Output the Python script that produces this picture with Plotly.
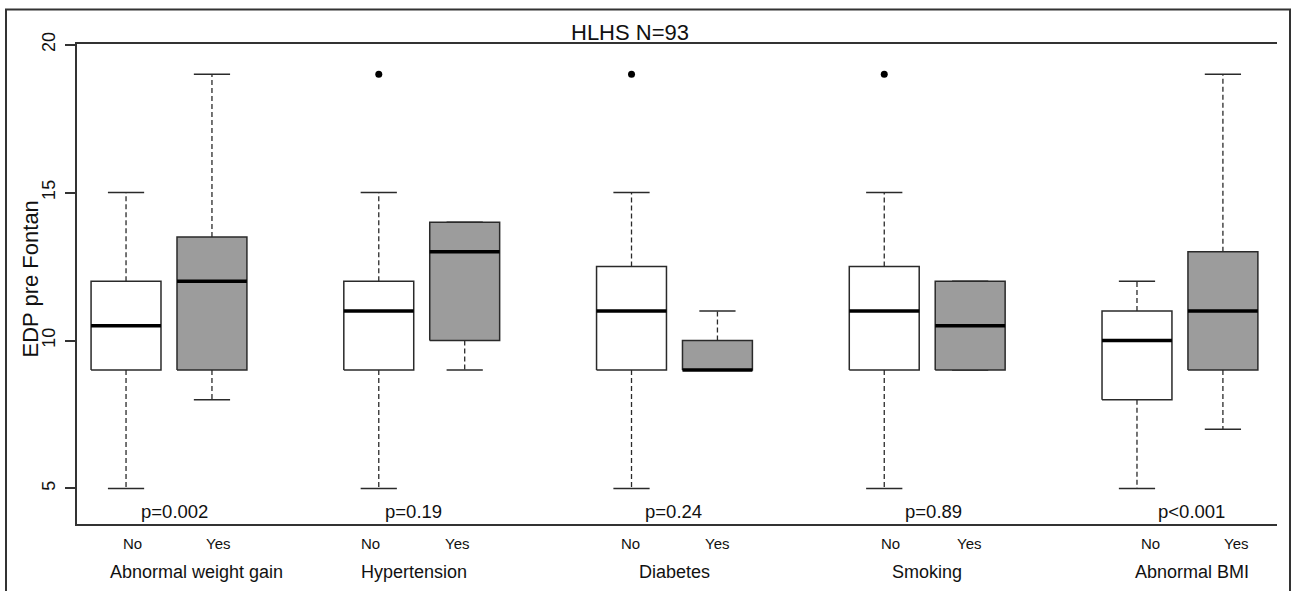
import plotly.graph_objects as go

# ---- data ----
groups = ["Abnormal weight gain", "Hypertension", "Diabetes", "Smoking", "Abnormal BMI"]
levels = ["No", "Yes"]
p_values = ["p=0.002", "p=0.19", "p=0.24", "p=0.89", "p<0.001"]
# box statistics, order: (No, Yes) for each group
whisk_lo = [5, 8, 5, 9, 5, 9, 5, 9, 5, 7]
q1 = [9, 9, 9, 10, 9, 9, 9, 9, 8, 9]
median = [10.5, 12, 11, 13, 11, 9, 11, 10.5, 10, 11]
q3 = [12, 13.5, 12, 14, 12.5, 10, 12.5, 12, 11, 13]
whisk_hi = [15, 19, 15, 14, 15, 11, 15, 12, 12, 19]
outlier_box = [2, 4, 6]
outlier_val = [19, 19, 19]
y_ticks = [5, 10, 15, 20]

# ---- layout helpers ----
GROUP_STEP = 3.0
YES_OFFSET = 1.02
BOX_W = 0.83
CAP_W = 0.43
pos = [1 + GROUP_STEP * g + YES_OFFSET * l for g in range(len(groups)) for l in range(len(levels))]
fills = ["#ffffff", "#9c9c9c"] * len(groups)
EDGE = "#2a2a2a"

fig = go.Figure()

# whiskers (dashed)
wx, wy = [], []
for i, p in enumerate(pos):
    wx += [p, p, None, p, p, None]
    wy += [q3[i], whisk_hi[i], None, q1[i], whisk_lo[i], None]
fig.add_trace(go.Scatter(x=wx, y=wy, mode="lines", line=dict(color=EDGE, width=1.3, dash="5px,3px"),
                         hoverinfo="skip", showlegend=False))
# caps
cx, cy = [], []
for i, p in enumerate(pos):
    cx += [p - CAP_W / 2, p + CAP_W / 2, None, p - CAP_W / 2, p + CAP_W / 2, None]
    cy += [whisk_hi[i], whisk_hi[i], None, whisk_lo[i], whisk_lo[i], None]
fig.add_trace(go.Scatter(x=cx, y=cy, mode="lines", line=dict(color=EDGE, width=1.5),
                         hoverinfo="skip", showlegend=False))
# boxes
for i, p in enumerate(pos):
    fig.add_trace(go.Scatter(
        x=[p - BOX_W / 2, p + BOX_W / 2, p + BOX_W / 2, p - BOX_W / 2, p - BOX_W / 2],
        y=[q1[i], q1[i], q3[i], q3[i], q1[i]],
        mode="lines", fill="toself", fillcolor=fills[i],
        line=dict(color=EDGE, width=1.5), hoverinfo="skip", showlegend=False))
# medians
mx, my = [], []
for i, p in enumerate(pos):
    mx += [p - BOX_W / 2, p + BOX_W / 2, None]
    my += [median[i], median[i], None]
fig.add_trace(go.Scatter(x=mx, y=my, mode="lines", line=dict(color="#000000", width=3.5),
                         hoverinfo="skip", showlegend=False))
# outliers
fig.add_trace(go.Scatter(x=[pos[b] for b in outlier_box], y=outlier_val, mode="markers",
                         marker=dict(color="#000000", size=7), hoverinfo="skip", showlegend=False))

XMIN, XMAX = 0.418, 14.662
YMIN, YMAX = 3.8, 20.02

def px_to_x(px):
    return XMIN + (px - 77) / 1200 * (XMAX - XMIN)

def py_to_paper(py):
    return (524 - py) / 480

FONT = "Liberation Sans, Arial, sans-serif"
ann = []
# p-value labels
p_px = [174, 413, 673, 933.5, 1191]
for t, px in zip(p_values, p_px):
    ann.append(dict(x=px_to_x(px), y=py_to_paper(511), xref="x", yref="paper", text=t, showarrow=False,
                    xanchor="center", yanchor="middle",
                    font=dict(size=18.5, color="#111", family=FONT)))
# No / Yes labels
lvl_px = [132, 217.5, 370, 457, 630, 717, 890, 969, 1150, 1236]
for k, px in enumerate(lvl_px):
    ann.append(dict(x=px_to_x(px), y=py_to_paper(543.5), xref="x", yref="paper", text=levels[k % 2],
                    showarrow=False, xanchor="center", yanchor="middle",
                    font=dict(size=15, color="#111", family=FONT)))
# group labels
grp_px = [196.7, 414, 674, 926.5, 1192]
for g, px in zip(groups, grp_px):
    ann.append(dict(x=px_to_x(px), y=py_to_paper(572), xref="x", yref="paper", text=g, showarrow=False,
                    xanchor="center", yanchor="middle",
                    font=dict(size=18, color="#111", family=FONT)))

ann.append(dict(x=(630 - 77) / 1200, y=py_to_paper(33), xref="paper", yref="paper", text="HLHS N=93",
                showarrow=False, xanchor="center", yanchor="middle",
                font=dict(size=22, color="#111", family=FONT)))
ann.append(dict(x=(30 - 77) / 1200, y=py_to_paper(279.5), xref="paper", yref="paper", text="EDP pre Fontan",
                showarrow=False, textangle=-90, xanchor="center", yanchor="middle",
                font=dict(size=22, color="#111", family=FONT)))

fig.update_layout(
    width=1292, height=591,
    margin=dict(l=77, r=15, t=44, b=67),
    paper_bgcolor="white", plot_bgcolor="white",
    showlegend=False,
    annotations=ann,
    xaxis=dict(range=[XMIN, XMAX], showgrid=False, zeroline=False, showticklabels=False,
               ticks="", showline=True, mirror=True, linecolor="#333", linewidth=1.5),
    yaxis=dict(range=[YMIN, YMAX], showgrid=False, zeroline=False, tickvals=y_ticks,
               ticks="outside", ticklen=10, tickcolor="#333", tickwidth=1.5,
               showline=True, linecolor="#333", linewidth=1.5, tickangle=-90,
               ticklabelstandoff=3,
               tickfont=dict(size=18, color="#111", family=FONT)),
    shapes=[dict(type="rect", xref="paper", yref="paper",
                 x0=(6 - 77) / 1200, x1=(1290 - 77) / 1200,
                 y0=py_to_paper(640), y1=py_to_paper(9.5),
                 line=dict(color="#333", width=2), fillcolor="rgba(0,0,0,0)", layer="below")],
)

fig.write_html(
    "out.html",
    config={"displayModeBar": False},
    post_script="document.documentElement.style.margin='0';document.body.style.margin='0';"
                "document.body.style.overflow='hidden';",
)
